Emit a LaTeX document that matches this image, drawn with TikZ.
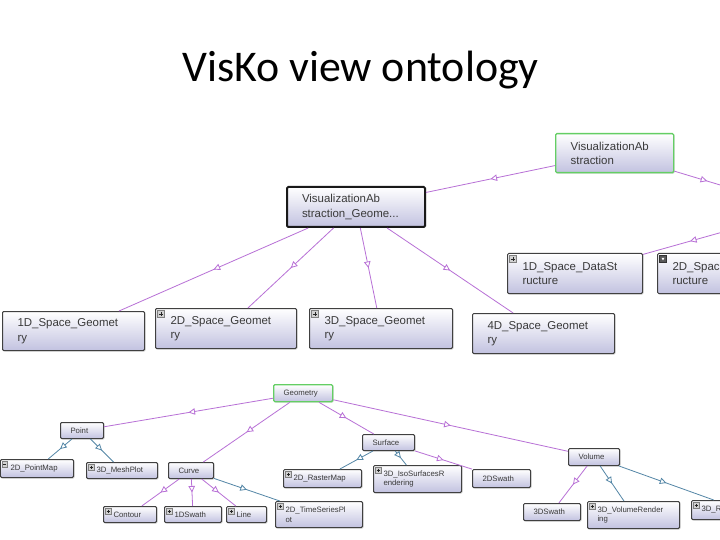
\documentclass[tikz,border=0pt]{standalone}
\usepackage{fontspec}
\newfontfamily\titlefont{Carlito}
\newfontfamily\nodefont{Liberation Sans}
\usetikzlibrary{decorations.markings,arrows.meta,shadows}
\definecolor{lav}{RGB}{194,194,224}
\definecolor{purp}{RGB}{184,112,214}
\definecolor{tealc}{RGB}{84,134,166}
\definecolor{grn}{RGB}{100,206,100}
\definecolor{txt}{RGB}{58,58,58}
\newcommand\mkplus[2]{%
  \begin{scope}[shift={(#1.north west)}]
    \draw[black!50, fill=black!18, line width=0.4bp] (2.5,2.5) rectangle ++(#2,#2);
    \draw[black!85, line width=0.7bp] (2.5+0.2*#2,2.5+0.5*#2) -- ++(0.6*#2,0)
      (2.5+0.5*#2,2.5+0.2*#2) -- ++(0,0.6*#2);
  \end{scope}}
\newcommand\mkminus[2]{%
  \begin{scope}[shift={(#1.north west)}]
    \draw[black!50, fill=black!18, line width=0.4bp] (2,2.5) rectangle ++(#2,#2);
    \draw[black!85, line width=0.7bp] (2+0.2*#2,2.5+0.5*#2) -- ++(0.6*#2,0);
  \end{scope}}
\newcommand\mkdark[2]{%
  \begin{scope}[shift={(#1.north west)}]
    \draw[black!80, fill=black!65, line width=0.4bp] (2.5,2.5) rectangle ++(#2,#2);
    \fill[white] (2.5+0.3*#2,2.5+0.35*#2) -- ++(0.4*#2,0) -- ++(-0.2*#2,0.35*#2) -- cycle;
  \end{scope}}
\begin{document}
\begin{tikzpicture}[x=1bp,y=-1bp,
  obox/.style={draw=black!75, line width=1bp, rounded corners=1.2bp,
    top color=white, bottom color=lav, anchor=north west, align=left,
    text=txt, inner ysep=1bp,
    drop shadow={shadow xshift=1bp, shadow yshift=-1bp, opacity=0.3}},
  bigbox/.style={obox, font=\nodefont\fontsize{11.5}{14.5}\selectfont, inner xsep=15bp},
  smallbox/.style={obox, font=\nodefont\fontsize{7.8}{10}\selectfont, inner xsep=10bp},
  rootbox/.style={draw=grn, line width=1.3bp},
  selbox/.style={line width=2bp, draw=black!90},
  isa/.style={line width=0.8bp, postaction={decorate},
    decoration={markings, mark=at position 0.5 with
      {\arrow{Triangle[fill=white,length=6.5bp,width=6.5bp,line width=0.8bp]}}}},
  pu/.style={isa, draw=purp},
  te/.style={isa, draw=tealc}]
\clip (0,0) rectangle (720,540);
\fill[white] (0,0) rectangle (720,540);

\node[font=\titlefont\fontsize{44}{50}\selectfont, anchor=base] (title) at (360.5,82) {VisKo view ontology};

% upper ontology
\node[bigbox, rootbox, minimum width=118bp, minimum height=39bp, text width=88bp] (va) at (555,133) {VisualizationAb\\straction};
\node[bigbox, selbox, minimum width=138bp, minimum height=40bp, text width=108bp] (vag) at (286,186) {VisualizationAb\\straction\_Geome...};
\node[bigbox, minimum width=135bp, minimum height=40bp, text width=105bp] (ds1) at (507,253) {1D\_Space\_DataSt\\ructure};
\node[bigbox, minimum width=135bp, minimum height=40bp, text width=105bp] (ds2) at (657,253) {2D\_Spac\\ructure};
\node[bigbox, minimum width=142bp, minimum height=39bp, text width=112bp] (g1) at (2,311) {1D\_Space\_Geomet\\ry};
\node[bigbox, minimum width=141bp, minimum height=40bp, text width=111bp] (g2) at (155,308) {2D\_Space\_Geomet\\ry};
\node[bigbox, minimum width=143bp, minimum height=40bp, text width=113bp] (g3) at (309,308) {3D\_Space\_Geomet\\ry};
\node[bigbox, minimum width=142bp, minimum height=40bp, text width=112bp] (g4) at (472,313) {4D\_Space\_Geomet\\ry};
\mkplus{ds1}{7}
\mkdark{ds2}{7}
\mkplus{g2}{7}
\mkplus{g3}{7}

\coordinate (dsa) at (740,191);
\coordinate (dsb) at (737,228);
\draw[pu] (va) -- (vag);
\draw[pu] (va) -- (dsa);
\draw[pu] (dsb) -- (ds1);
\draw[pu] (vag) -- (g1);
\draw[pu] (vag) -- (g2);
\draw[pu] (vag) -- (g3);
\draw[pu] (vag) -- (g4);

% geometry tree
\node[smallbox, rootbox, minimum width=59bp, minimum height=17bp, text width=39bp] (geo) at (273,384) {Geometry};
\node[smallbox, minimum width=43bp, minimum height=16bp, text width=23bp] (point) at (60,422) {Point};
\node[smallbox, minimum width=73bp, minimum height=18bp, text width=53bp] (pm) at (0,459) {2D\_PointMap};
\node[smallbox, minimum width=71bp, minimum height=16bp, text width=51bp] (mesh) at (86,462) {3D\_MeshPlot};
\node[smallbox, minimum width=45bp, minimum height=16bp, text width=25bp] (curve) at (168,462) {Curve};
\node[smallbox, minimum width=53bp, minimum height=16bp, text width=33bp] (contour) at (103,506) {Contour};
\node[smallbox, minimum width=57bp, minimum height=16bp, text width=37bp] (sw1) at (164,506) {1DSwath};
\node[smallbox, minimum width=40bp, minimum height=16bp, text width=20bp] (line) at (226,506) {Line};
\node[smallbox, minimum width=87bp, minimum height=26bp, text width=67bp] (ts) at (275,501) {2D\_TimeSeriesPl\\ot};
\node[smallbox, minimum width=52bp, minimum height=16bp, text width=32bp] (surf) at (362,434) {Surface};
\node[smallbox, minimum width=78bp, minimum height=18bp, text width=58bp] (raster) at (283,469) {2D\_RasterMap};
\node[smallbox, minimum width=88bp, minimum height=27bp, text width=68bp] (iso) at (373,465) {3D\_IsoSurfacesR\\endering};
\node[smallbox, minimum width=58bp, minimum height=18bp, text width=38bp] (sw2) at (472,469) {2DSwath};
\node[smallbox, minimum width=51bp, minimum height=17bp, text width=31bp] (vol) at (568,448) {Volume};
\node[smallbox, minimum width=57bp, minimum height=17bp, text width=37bp] (sw3) at (523,503) {3DSwath};
\node[smallbox, minimum width=92bp, minimum height=27bp, text width=72bp] (volr) at (587,501) {3D\_VolumeRender\\ing};
\node[smallbox, minimum width=100bp, minimum height=19bp, text width=80bp] (r3) at (691,500) {3D\_R};
\mkminus{pm}{5.5}
\mkplus{mesh}{5.5}
\mkplus{contour}{5.5}
\mkplus{sw1}{5.5}
\mkplus{line}{5.5}
\mkplus{ts}{5.5}
\mkplus{raster}{5.5}
\mkplus{iso}{5.5}
\mkplus{volr}{5.5}
\mkplus{r3}{5.5}

\draw[pu] (geo) -- (point);
\draw[pu] (geo) -- (curve);
\draw[pu] (geo) -- (surf);
\draw[pu] (geo) -- (vol);
\draw[te] (point) -- (pm);
\draw[te] (point) -- (mesh);
\draw[pu] (curve) -- (contour);
\draw[pu] (curve) -- (sw1);
\draw[pu] (curve) -- (line);
\draw[te] (curve) -- (ts);
\draw[te] (surf) -- (raster);
\draw[te] (surf) -- (iso);
\draw[pu] (surf) -- (sw2);
\draw[pu] (vol) -- (sw3);
\draw[te] (vol) -- (volr);
\draw[te] (vol) -- (r3);
\end{tikzpicture}
\end{document}
